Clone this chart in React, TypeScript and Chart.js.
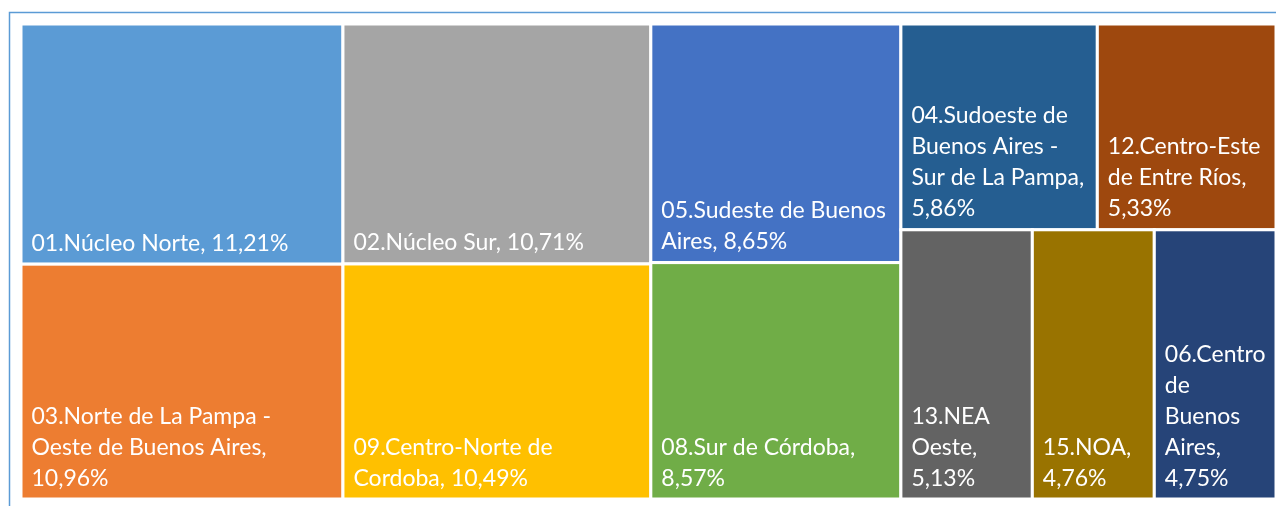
import React, { useEffect, useRef } from 'react';
import { Chart, registerables } from 'chart.js';

Chart.register(...registerables);

// ---- Data ----
const categories: string[] = [
  '01.Núcleo Norte',
  '03.Norte de La Pampa - Oeste de Buenos Aires',
  '02.Núcleo Sur',
  '09.Centro-Norte de Cordoba',
  '05.Sudeste de Buenos Aires',
  '08.Sur de Córdoba',
  '04.Sudoeste de Buenos Aires - Sur de La Pampa',
  '12.Centro-Este de Entre Ríos',
  '13.NEA Oeste',
  '15.NOA',
  '06.Centro de Buenos Aires',
];
const shares: number[] = [11.21, 10.96, 10.71, 10.49, 8.65, 8.57, 5.86, 5.33, 5.13, 4.76, 4.75];
const colors: string[] = [
  '#5B9BD5',
  '#ED7D31',
  '#A5A5A5',
  '#FFC000',
  '#4472C4',
  '#70AD47',
  '#255E91',
  '#9E480E',
  '#636363',
  '#997300',
  '#264478',
];

type R = { x: number; y: number; w: number; h: number };

function worstOf(rs: R[]): number {
  let m = 0;
  for (const r of rs) {
    const a = Math.max(r.w / r.h, r.h / r.w);
    if (a > m) m = a;
  }
  return m;
}

function strip(vals: number[], rect: R, alongWidth: boolean, scale: number): { rects: R[]; rest: R } {
  const area = vals.reduce((a, b) => a + b, 0) * scale;
  const rects: R[] = [];
  if (alongWidth) {
    const th = area / rect.w;
    let x = rect.x;
    for (const v of vals) {
      const w = (v * scale) / th;
      rects.push({ x, y: rect.y, w, h: th });
      x += w;
    }
    return { rects, rest: { x: rect.x, y: rect.y + th, w: rect.w, h: rect.h - th } };
  }
  const th = area / rect.h;
  let y = rect.y;
  for (const v of vals) {
    const h = (v * scale) / th;
    rects.push({ x: rect.x, y, w: th, h });
    y += h;
  }
  return { rects, rest: { x: rect.x + th, y: rect.y, w: rect.w - th, h: rect.h } };
}

function layout(vals: number[], rect: R, scale: number): R[] {
  if (vals.length === 0) return [];
  if (vals.length === 1) return [rect];
  const alongWidth = rect.w <= rect.h;
  let n = 1;
  let best = worstOf(strip(vals.slice(0, 1), rect, alongWidth, scale).rects);
  while (n < vals.length) {
    const wr = worstOf(strip(vals.slice(0, n + 1), rect, alongWidth, scale).rects);
    if (wr <= best) {
      best = wr;
      n++;
    } else break;
  }
  const s = strip(vals.slice(0, n), rect, alongWidth, scale);
  const a = [...s.rects, ...layout(vals.slice(n), s.rest, scale)];
  const b = strip(vals, rect, !alongWidth, scale).rects;
  return worstOf(b) <= worstOf(a) + 1e-9 ? b : a;
}

function fmt(v: number): string {
  return v.toFixed(2).replace('.', ',') + '%';
}

const FONT = '23px Lato, "Open Sans", sans-serif';
const LINE_H = 31;

const framePlugin = {
  id: 'frame',
  beforeDraw(chart: any) {
    const ctx = chart.ctx;
    ctx.save();
    ctx.strokeStyle = '#5B9BD5';
    ctx.lineWidth = 1.5;
    ctx.strokeRect(9.5, 12.5, chart.width + 40, chart.height + 40);
    ctx.restore();
  },
};

const treemapPlugin = {
  id: 'treemap',
  afterDatasetsDraw(chart: any) {
    const { ctx, chartArea, scales } = chart;
    const W = chartArea.right - chartArea.left;
    const H = chartArea.bottom - chartArea.top;
    const order = shares.map((_, i) => i).sort((p, q) => shares[q] - shares[p]);
    const vals = order.map((i) => shares[i]);
    const total = vals.reduce((a, b) => a + b, 0);
    const rects = layout(vals, { x: 0, y: 0, w: W, h: H }, (W * H) / total);
    ctx.save();
    rects.forEach((r, k) => {
      const i = order[k];
      const x0 = scales.x.getPixelForValue(r.x / W);
      const x1 = scales.x.getPixelForValue((r.x + r.w) / W);
      const y0 = scales.y.getPixelForValue(r.y / H);
      const y1 = scales.y.getPixelForValue((r.y + r.h) / H);
      ctx.fillStyle = colors[i];
      ctx.fillRect(x0, y0, x1 - x0, y1 - y0);
      ctx.strokeStyle = '#FFFFFF';
      ctx.lineWidth = 3;
      ctx.strokeRect(x0, y0, x1 - x0, y1 - y0);
    });
    ctx.font = FONT;
    ctx.fillStyle = '#FFFFFF';
    ctx.textBaseline = 'alphabetic';
    ctx.textAlign = 'left';
    rects.forEach((r, k) => {
      const i = order[k];
      const x0 = scales.x.getPixelForValue(r.x / W) + 1.5;
      const x1 = scales.x.getPixelForValue((r.x + r.w) / W) - 1.5;
      const y1 = scales.y.getPixelForValue((r.y + r.h) / H) - 1.5;
      const label = categories[i] + ', ' + fmt(shares[i]);
      const maxW = x1 - x0 - 18;
      const words = label.split(' ');
      const lines: string[] = [];
      let cur = '';
      for (const w of words) {
        const test = cur ? cur + ' ' + w : w;
        if (cur && ctx.measureText(test).width > maxW) {
          lines.push(cur);
          cur = w;
        } else cur = test;
      }
      if (cur) lines.push(cur);
      const lastBase = y1 - 12;
      lines.forEach((ln, j) => {
        ctx.fillText(ln, x0 + 9, lastBase - (lines.length - 1 - j) * LINE_H);
      });
    });
    ctx.restore();
  },
};

export default function App() {
  const ref = useRef<HTMLCanvasElement | null>(null);
  useEffect(() => {
    if (!ref.current) return;
    const chart = new Chart(ref.current, {
      type: 'scatter',
      data: {
        labels: categories,
        datasets: [{ label: 'Participación', data: [], pointRadius: 0 }],
      },
      options: {
        animation: false,
        responsive: false,
        layout: { padding: { left: 21, top: 24, right: 0, bottom: 7 } },
        plugins: { legend: { display: false }, tooltip: { enabled: false } },
        scales: {
          x: { type: 'linear', min: 0, max: 1, display: false },
          y: { type: 'linear', min: 0, max: 1, reverse: true, display: false },
        },
      },
      plugins: [framePlugin, treemapPlugin],
    });
    return () => chart.destroy();
  }, []);
  return (
    <div style={{ position: 'fixed', left: 0, top: 0, width: 1276, height: 506, background: '#fff' }}>
      <canvas ref={ref} width={1276} height={506} style={{ display: 'block' }} />
    </div>
  );
}
